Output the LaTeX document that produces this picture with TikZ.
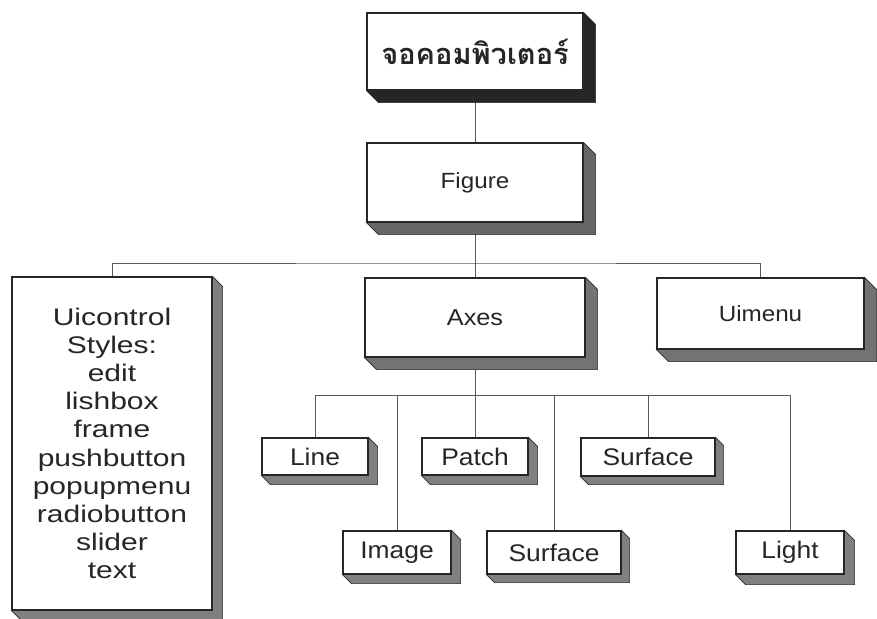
\documentclass[tikz,border=0pt]{standalone}
\usepackage{fontspec}
\setmainfont{Liberation Sans}[FakeStretch=1.1]
\newfontfamily\widefont{Liberation Sans}[FakeStretch=1.25]
\newfontfamily\thaifont[Script=Thai]{Loma}

\usetikzlibrary{backgrounds}

\begin{document}
\begin{tikzpicture}[x=1pt,y=-1pt,
    main/.style = {draw=black!85, line width=1.1pt, fill=white, inner sep=0pt, text=black!85, font=\fontsize{22}{26}\selectfont},
    small/.style = {main, font=\fontsize{24}{28}\selectfont},
    wire/.style = {draw=black!65, line width=0.8pt}]
        \useasboundingbox (0,0) rectangle (877,618);

        \node[main, minimum width=216pt, minimum height=77pt, font=\fontsize{29}{32}\thaifont\bfseries] (0) at (475,51.5) {จอคอมพิวเตอร์};
        \node[main, minimum width=216pt, minimum height=79pt] (1) at (475,182.5) {Figure};
        \node[main, minimum width=200pt, minimum height=333pt, align=center, font=\fontsize{24}{28.2}\widefont] (2) at (112,443.5)
            {Uicontrol\\Styles:\\edit\\lishbox\\frame\\pushbutton\\popupmenu\\radiobutton\\slider\\text};
        \node[main, minimum width=220pt, minimum height=79pt, font=\fontsize{23}{27}\selectfont] (3) at (475,317.5) {Axes};
        \node[main, minimum width=207pt, minimum height=71pt] (4) at (760.5,313.5) {Uimenu};
        \node[small, minimum width=106pt, minimum height=37pt] (5) at (315,456.5) {Line};
        \node[small, minimum width=106pt, minimum height=37pt] (6) at (475,456.5) {Patch};
        \node[small, minimum width=134pt, minimum height=38pt] (7) at (648,457) {Surface};
        \node[small, minimum width=108pt, minimum height=43pt] (8) at (397,552.5) {Image};
        \node[small, minimum width=134pt, minimum height=43pt] (9) at (554,552.5) {Surface};
        \node[small, minimum width=108pt, minimum height=43pt] (10) at (790,552.5) {Light};

        \coordinate (b1) at (475,263);
        \coordinate (b2) at (475,395);

        \begin{scope}[on background layer]
            \draw[wire] (0) -- (1);
            \draw[wire] (1) -- (3);
            \draw[wire] (2) |- (b1) -| (4);
            \draw[wire] (3) -- (6);
            \draw[wire] (5) |- (b2) -| (10);
            \draw[wire] (8) |- (b2);
            \draw[wire] (9) |- (b2);
            \draw[wire] (7) |- (b2);
            \foreach \n/\d/\c in {0/12/black!85, 1/12/black!60, 2/10/black!50, 3/12/black!55, 4/12/black!55,
                                  5/9/black!50, 6/9/black!50, 7/8/black!50, 8/9/black!50, 9/8/black!50, 10/10/black!50}
                \filldraw[fill=\c, draw=black!85, line width=0.6pt]
                    (\n.north east) -- ++(\d,\d) |- ([shift={(\d,\d)}]\n.south west) -- (\n.south west) -- (\n.south east) -- cycle;
        \end{scope}
\end{tikzpicture}
\end{document}
